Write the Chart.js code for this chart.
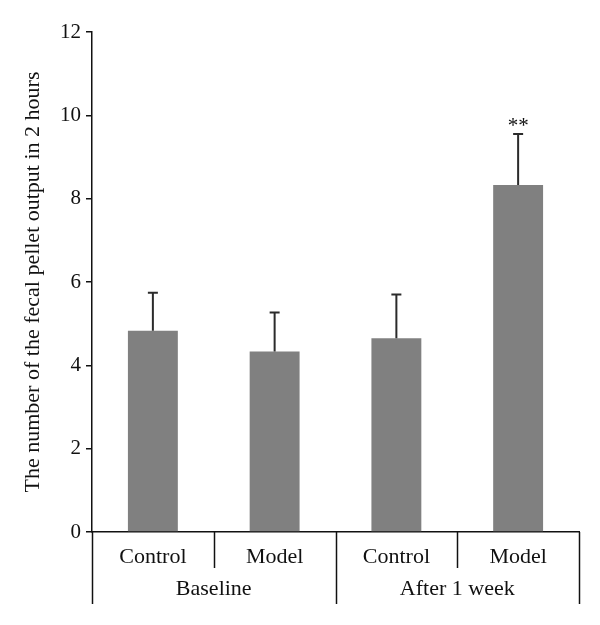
<!DOCTYPE html>
<html>
<head>
<meta charset="utf-8">
<script src="https://cdn.jsdelivr.net/npm/chart.js@4/dist/chart.umd.min.js"></script>
<style>
  html, body { margin: 0; padding: 0; background: #fff; }
  #wrap { width: 600px; height: 625px; }
</style>
</head>
<body>
<div id="wrap"><canvas id="c" width="600" height="625"></canvas></div>
<script>
// categories and groups
const labels = ['Control', 'Model', 'Control', 'Model'];
const groups = ['Baseline', 'After 1 week'];
const groupSize = [2, 2];
// mean pellet counts and SD
const means = [4.83, 4.33, 4.65, 8.33];
const errors = [0.91, 0.94, 1.05, 1.22];
const marks = ['', '', '', '**'];
const yTicks = [0, 2, 4, 6, 8, 10, 12];

const serif = '"Liberation Serif", "DejaVu Serif", serif';

const errorBars = {
  id: 'errorBars',
  afterDatasetsDraw(chart) {
    const ctx = chart.ctx;
    const y = chart.scales.y;
    const meta = chart.getDatasetMeta(0);
    ctx.save();
    ctx.strokeStyle = '#2b2b2b';
    ctx.lineWidth = 2;
    meta.data.forEach((bar, i) => {
      const top = y.getPixelForValue(means[i] + errors[i]);
      ctx.beginPath();
      ctx.moveTo(bar.x, bar.y);
      ctx.lineTo(bar.x, top);
      ctx.moveTo(bar.x - 5, top);
      ctx.lineTo(bar.x + 5, top);
      ctx.stroke();
      if (marks[i]) {
        ctx.fillStyle = '#111';
        ctx.font = '21px ' + serif;
        ctx.textAlign = 'center';
        ctx.textBaseline = 'bottom';
        ctx.fillText(marks[i], bar.x, top + 3);
      }
    });
    ctx.restore();
  }
};

const tableLines = {
  id: 'tableLines',
  afterDraw(chart) {
    const ctx = chart.ctx;
    const x = chart.scales.x;
    const base = chart.chartArea.bottom;
    const step = (x.right - x.left) / labels.length;
    ctx.save();
    ctx.strokeStyle = '#111';
    ctx.lineWidth = 1.5;
    // boundaries between categories
    let start = 0;
    const groupEdges = [0];
    groupSize.forEach(n => { start += n; groupEdges.push(start); });
    for (let i = 0; i <= labels.length; i++) {
      const px = Math.round(x.left + step * i) + 0.5;
      const len = groupEdges.includes(i) ? 72 : 36;
      ctx.beginPath();
      ctx.moveTo(px, base);
      ctx.lineTo(px, base + len);
      ctx.stroke();
    }
    // group labels
    ctx.fillStyle = '#111';
    ctx.font = '22px ' + serif;
    ctx.textAlign = 'center';
    ctx.textBaseline = 'middle';
    groups.forEach((g, gi) => {
      const a = x.left + step * groupEdges[gi];
      const b = x.left + step * groupEdges[gi + 1];
      ctx.fillText(g, (a + b) / 2, base + 57);
    });
    ctx.restore();
  }
};

new Chart(document.getElementById('c'), {
  type: 'bar',
  data: {
    labels,
    datasets: [{
      data: means,
      backgroundColor: '#808080',
      borderWidth: 0,
      barPercentage: 0.41,
      categoryPercentage: 1
    }]
  },
  options: {
    responsive: false,
    animation: false,
    layout: { padding: { top: 32, right: 21, bottom: 0, left: 0 } },
    plugins: { legend: { display: false }, tooltip: { enabled: false } },
    scales: {
      x: {
        grid: { display: false },
        border: { display: true, color: '#111', width: 1.5 },
        ticks: { color: '#111', font: { family: serif, size: 22 }, padding: 4, maxRotation: 0 },
        afterFit(s) { s.height = 93; }
      },
      y: {
        min: 0, max: 12,
        afterBuildTicks(s) { s.ticks = yTicks.map(v => ({ value: v })); },
        grid: { drawOnChartArea: false, tickLength: 6, color: '#111', lineWidth: 1.5 },
        border: { display: true, color: '#111', width: 1.5 },
        ticks: { color: '#111', font: { family: serif, size: 21 }, padding: 5 },
        title: {
          display: true,
          text: 'The number of the fecal pellet output in 2 hours',
          color: '#111',
          font: { family: serif, size: 22 },
          padding: { top: 20, bottom: 0 }
        },
        afterFit(s) { s.width = 92; }
      }
    }
  },
  plugins: [errorBars, tableLines]
});
</script>
</body>
</html>
